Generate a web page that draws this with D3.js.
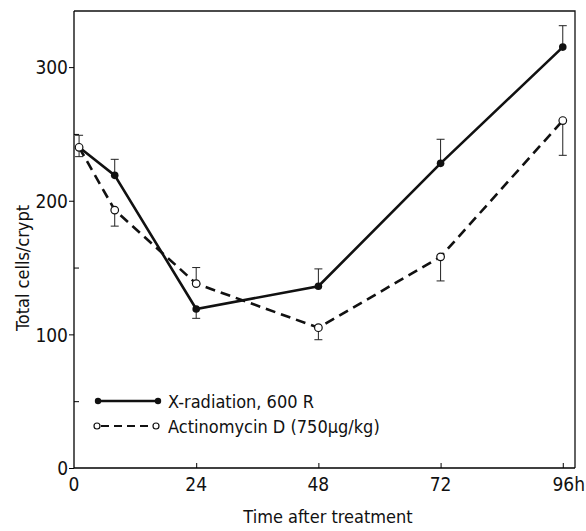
<!DOCTYPE html>
<html>
<head>
<meta charset="utf-8">
<script src="https://d3js.org/d3.v7.min.js"></script>
<style>
  body { margin: 0; background: #fff; }
  text { font-family: "Liberation Sans Narrow", "DejaVu Sans Condensed", "Arial Narrow", sans-serif; fill: #111; }
</style>
</head>
<body>
<div id="chart"></div>
<script>
// hours after treatment
var hours = [1, 8, 24, 48, 72, 96];

// X-radiation, 600 R (filled circles) and the end of each error bar
var xrayCells = [240, 219, 119, 136, 228, 315];
var xrayBarEnd = [249, 231, 112, 149, 246, 331];

// Actinomycin D (open circles)
var actCells = [240, 193, 138, 105, 158, 260];
var actBarEnd = [233, 181, 150, 96, 140, 234];

var xTicks = [0, 24, 48, 72, 96];
var yTicks = [0, 100, 200, 300];
var yMinor = [50, 150, 250];

var legendLabels = ["X-radiation, 600 R", "Actinomycin D (750\u03bcg/kg)"];

var svgWidth = 586;
var svgHeight = 531;

var svg = d3.select("#chart")
  .append("svg")
  .attr("width", svgWidth)
  .attr("height", svgHeight);

var xScale = d3.scaleLinear()
  .domain([0, 98.4])
  .range([74, 575]);

var yScale = d3.scaleLinear()
  .domain([0, 342])
  .range([468, 11]);

// frame: top and right edges
svg.append("path")
  .attr("d", `M${xScale(0)},${yScale(342)}H${xScale(98.4)}V${yScale(0)}`)
  .attr("fill", "none")
  .attr("stroke", "#111")
  .attr("stroke-width", 1.3);

// axes
var yAxis = d3.axisLeft(yScale)
  .tickValues(yTicks)
  .tickSize(5)
  .tickPadding(1)
  .tickFormat(d3.format("d"));

var yAxisG = svg.append("g")
  .attr("transform", `translate(${xScale(0)},0)`)
  .call(yAxis);

yAxisG.select(".domain").attr("stroke-width", 1.3).attr("d", `M0,${yScale(342)}V${yScale(0)}`);
yAxisG.selectAll("text").style("font-size", "19px").attr("dy", "0.36em");

var yMinorAxis = d3.axisRight(yScale)
  .tickValues(yMinor)
  .tickSize(5)
  .tickFormat("");

svg.append("g")
  .attr("transform", `translate(${xScale(0)},0)`)
  .call(yMinorAxis)
  .select(".domain").remove();

var xAxis = d3.axisTop(xScale)
  .tickValues(xTicks.slice(1))
  .tickSize(5)
  .tickFormat("");

var xAxisG = svg.append("g")
  .attr("transform", `translate(0,${yScale(0)})`)
  .call(xAxis);

xAxisG.select(".domain").attr("stroke-width", 1.3).attr("d", `M${xScale(0)},0H${xScale(98.4)}`);

// x tick labels below the axis
svg.selectAll(".xlab")
  .data(xTicks)
  .enter()
  .append("text")
  .attr("class", "xlab")
  .attr("x", d => xScale(d) + (d === 96 ? 6 : 0))
  .attr("y", yScale(0) + 23)
  .attr("text-anchor", "middle")
  .style("font-size", "19px")
  .text(d => d === 96 ? "96h" : d);

// axis titles
svg.append("text")
  .attr("x", 328)
  .attr("y", 523)
  .attr("text-anchor", "middle")
  .style("font-size", "18px")
  .text("Time after treatment");

svg.append("text")
  .attr("transform", "translate(29,268) rotate(-90)")
  .attr("text-anchor", "middle")
  .style("font-size", "18px")
  .text("Total cells/crypt");

// error bars
function drawBars(values, ends) {
  var g = svg.append("g")
    .attr("stroke", "#222")
    .attr("stroke-width", 1);
  g.selectAll("line.stem")
    .data(hours)
    .enter()
    .append("line")
    .attr("x1", d => xScale(d))
    .attr("x2", d => xScale(d))
    .attr("y1", (d, i) => yScale(values[i]))
    .attr("y2", (d, i) => yScale(ends[i]));
  g.selectAll("line.cap")
    .data(hours)
    .enter()
    .append("line")
    .attr("x1", d => xScale(d) - 4)
    .attr("x2", d => xScale(d) + 4)
    .attr("y1", (d, i) => yScale(ends[i]))
    .attr("y2", (d, i) => yScale(ends[i]));
}

drawBars(xrayCells, xrayBarEnd);
drawBars(actCells, actBarEnd);

var line = d3.line()
  .x(d => xScale(d[0]))
  .y(d => yScale(d[1]));

svg.append("path")
  .datum(d3.zip(hours, actCells))
  .attr("d", line)
  .attr("fill", "none")
  .attr("stroke", "#111")
  .attr("stroke-width", 2.6)
  .attr("stroke-dasharray", "10,6");

svg.append("path")
  .datum(d3.zip(hours, xrayCells))
  .attr("d", line)
  .attr("fill", "none")
  .attr("stroke", "#111")
  .attr("stroke-width", 2.6);

svg.selectAll("circle.open")
  .data(d3.zip(hours, actCells))
  .enter()
  .append("circle")
  .attr("class", "open")
  .attr("cx", d => xScale(d[0]))
  .attr("cy", d => yScale(d[1]))
  .attr("r", 3.8)
  .attr("fill", "#fff")
  .attr("stroke", "#111")
  .attr("stroke-width", 1.2);

svg.selectAll("circle.filled")
  .data(d3.zip(hours, xrayCells).slice(1))
  .enter()
  .append("circle")
  .attr("class", "filled")
  .attr("cx", d => xScale(d[0]))
  .attr("cy", d => yScale(d[1]))
  .attr("r", 3.8)
  .attr("fill", "#111");

// legend
var legend = svg.append("g");

legend.append("line")
  .attr("x1", 98).attr("x2", 158)
  .attr("y1", 401).attr("y2", 401)
  .attr("stroke", "#111").attr("stroke-width", 2.6);
legend.selectAll("circle.lf")
  .data([98, 158])
  .enter()
  .append("circle")
  .attr("cx", d => d).attr("cy", 401).attr("r", 3.2)
  .attr("fill", "#111");

legend.append("line")
  .attr("x1", 101).attr("x2", 153)
  .attr("y1", 426).attr("y2", 426)
  .attr("stroke", "#111").attr("stroke-width", 2.2)
  .attr("stroke-dasharray", "8,5");
legend.selectAll("circle.lo")
  .data([97, 156])
  .enter()
  .append("circle")
  .attr("cx", d => d).attr("cy", 426).attr("r", 3)
  .attr("fill", "#fff").attr("stroke", "#111").attr("stroke-width", 1.2);

legend.selectAll("text")
  .data(legendLabels)
  .enter()
  .append("text")
  .attr("x", 168)
  .attr("y", (d, i) => 408 + i * 25)
  .style("font-size", "18px")
  .text(d => d);
</script>
</body>
</html>
